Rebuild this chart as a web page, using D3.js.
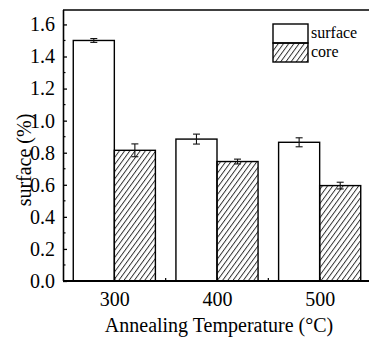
<!DOCTYPE html>
<html>
<head>
<meta charset="utf-8">
<script src="https://cdn.jsdelivr.net/npm/d3@7"></script>
<style>
  html, body { margin: 0; padding: 0; background: #fff; }
  svg { display: block; }
  svg text { font-family: "Liberation Serif", "Times New Roman", Times, "DejaVu Serif", serif; fill: #000; }
</style>
</head>
<body>
<svg id="chart" width="369" height="347"></svg>
<script>
// Annealing temperatures (°C)
const temperatures = [300, 400, 500];
// Mean values (%) and their error half-widths
const surfaceValues = [1.50, 0.885, 0.865];
const surfaceErrors = [0.012, 0.031, 0.028];
const coreValues = [0.815, 0.745, 0.595];
const coreErrors = [0.04, 0.015, 0.021];
const seriesNames = ["surface", "core"];
const yTickValues = [0, 0.2, 0.4, 0.6, 0.8, 1.0, 1.2, 1.4, 1.6];
const yMinorValues = [0.1, 0.3, 0.5, 0.7, 0.9, 1.1, 1.3, 1.5];
const xMinorValues = [350, 450];
const barWidth = 40; // in temperature units

const serif = '"Liberation Serif", "Times New Roman", Times, "DejaVu Serif", serif';
const svg = d3.select("#chart");
const plotL = 63, plotR = 371, plotT = 10, plotB = 281;

const x = d3.scaleLinear().domain([250, 550]).range([plotL, plotR]);
const y = d3.scaleLinear().domain([0, 1.69]).range([plotB, plotT]);

// Diagonal hatch for the core series
const defs = svg.append("defs");
defs.append("pattern")
  .attr("id", "hatch")
  .attr("patternUnits", "userSpaceOnUse")
  .attr("width", 4.2).attr("height", 10)
  .attr("patternTransform", "rotate(36)")
  .append("line")
  .attr("x1", 0.5).attr("y1", -1).attr("x2", 0.5).attr("y2", 11)
  .attr("stroke", "#222").attr("stroke-width", 0.9);

const series = [
  { name: seriesNames[0], values: surfaceValues, errors: surfaceErrors, offset: -barWidth, fill: "#fff" },
  { name: seriesNames[1], values: coreValues, errors: coreErrors, offset: 0, fill: "url(#hatch)" }
];

// Bars
series.forEach(s => {
  const g = svg.append("g");
  g.selectAll("rect").data(temperatures).enter().append("rect")
    .attr("x", (t) => x(t + s.offset))
    .attr("y", (t, i) => y(s.values[i]))
    .attr("width", x(barWidth) - x(0))
    .attr("height", (t, i) => y(0) - y(s.values[i]))
    .attr("fill", s.fill)
    .attr("stroke", "#000")
    .attr("stroke-width", 1.4);
});

// Error bars
series.forEach(s => {
  const g = svg.append("g").attr("stroke", "#111").attr("stroke-width", 1.1);
  temperatures.forEach((t, i) => {
    const cx = x(t + s.offset + barWidth / 2);
    const y1 = y(s.values[i] - s.errors[i]);
    const y2 = y(s.values[i] + s.errors[i]);
    g.append("line").attr("x1", cx).attr("x2", cx).attr("y1", y1).attr("y2", y2);
    g.append("line").attr("x1", cx - 3.5).attr("x2", cx + 3.5).attr("y1", y1).attr("y2", y1);
    g.append("line").attr("x1", cx - 3.5).attr("x2", cx + 3.5).attr("y1", y2).attr("y2", y2);
  });
});

// Top frame
svg.append("line")
  .attr("x1", plotL).attr("x2", plotR).attr("y1", plotT).attr("y2", plotT)
  .attr("stroke", "#000").attr("stroke-width", 1.3);

// Y axis with inward ticks
const yAxis = d3.axisLeft(y).tickValues(yTickValues).tickSize(-4).tickPadding(8)
  .tickFormat(d3.format(".1f"));
const yg = svg.append("g").attr("transform", `translate(${plotL},0)`).call(yAxis)
  .attr("font-family", serif);
yg.select(".domain").attr("stroke-width", 1.6).attr("d", `M0.5,${plotT}V${plotB}`);
yg.selectAll(".tick line").attr("stroke-width", 1.3);
yg.selectAll(".tick text").attr("font-size", 20);
const yMinor = svg.append("g").attr("transform", `translate(${plotL},0)`);
yMinor.selectAll("line").data(yMinorValues).enter().append("line")
  .attr("x1", 0).attr("x2", 2.5).attr("y1", d => y(d)).attr("y2", d => y(d))
  .attr("stroke", "#000").attr("stroke-width", 1.2);

// X axis with inward ticks
const xAxis = d3.axisBottom(x).tickValues(temperatures).tickSize(-4).tickPadding(11)
  .tickFormat(d3.format("d"));
const xg = svg.append("g").attr("transform", `translate(0,${plotB})`).call(xAxis)
  .attr("font-family", serif);
xg.select(".domain").attr("stroke-width", 2).attr("d", `M${plotL},0H${plotR}`);
xg.selectAll(".tick text").attr("font-size", 20);
const xMinor = svg.append("g").attr("transform", `translate(0,${plotB})`);
xMinor.selectAll("line").data(xMinorValues).enter().append("line")
  .attr("x1", d => x(d)).attr("x2", d => x(d)).attr("y1", 0).attr("y2", -3)
  .attr("stroke", "#000").attr("stroke-width", 1.2);

// Axis titles
svg.append("text")
  .attr("x", 219).attr("y", 332)
  .attr("text-anchor", "middle").attr("font-size", 20)
  .text("Annealing Temperature (°C)");
svg.append("text")
  .attr("transform", "translate(31,160) rotate(-90)")
  .attr("text-anchor", "middle").attr("font-size", 20)
  .text("surface (%)");

// Legend
const legend = svg.append("g").attr("transform", "translate(273,24)");
series.forEach((s, i) => {
  const row = legend.append("g").attr("transform", `translate(0,${i * 19})`);
  row.append("rect").attr("width", 35).attr("height", 19)
    .attr("fill", s.fill).attr("stroke", "#000").attr("stroke-width", 1.4);
  row.append("text").attr("x", 38).attr("y", 14)
    .attr("font-size", 16).text(s.name);
});
</script>
</body>
</html>
